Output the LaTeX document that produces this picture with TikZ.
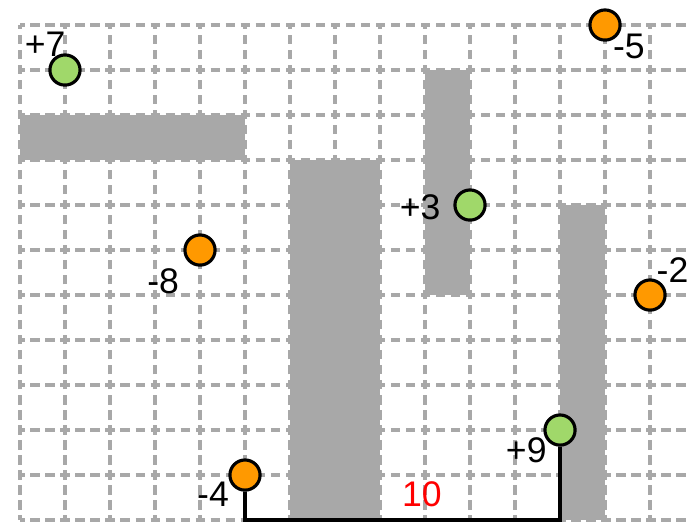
\documentclass[tikz,border=0pt]{standalone}
\usepackage{fontspec}
\setmainfont{Liberation Sans}
\definecolor{gridgray}{RGB}{168,168,168}
\definecolor{goodgreen}{RGB}{160,216,106}
\definecolor{badorange}{RGB}{255,153,0}
\begin{document}
\begin{tikzpicture}[
    gridline/.style={draw=gridgray, line width=2.2pt, dash pattern=on 5.9pt off 3.6pt, dash phase=2.95pt},
    wall/.style={fill=gridgray},
    reward/.style={circle, draw=black, line width=2pt, minimum size=0.67cm, inner sep=0pt},
    plus/.style={reward, fill=goodgreen},
    minus/.style={reward, fill=badorange},
    value/.style={font=\fontsize{22.5}{26}\selectfont, inner sep=0pt},
    route/.style={draw=black, line width=2.7pt}]

    % Frame of the picture
    \useasboundingbox (-0.444,-0.022) rectangle (14.844,11.556);

    % Dashed grid
    \foreach \x in {0,...,14}
        \draw[gridline] (\x,0) -- (\x,11);
    \foreach \y in {0,...,11}
        \draw[gridline] (0,\y) -- (14.844,\y);

    % Walls
    \fill[wall] (0,8) rectangle (5,9);
    \fill[wall] (6,0) rectangle (8,8);
    \fill[wall] (9,5) rectangle (10,10);
    \fill[wall] (12,0) rectangle (13,7);

    % Rewards
    \node[plus]  (p7) at (1,10) {};
    \node[minus] (m5) at (13,11) {};
    \node[plus]  (p3) at (10,7) {};
    \node[minus] (m8) at (4,6) {};
    \node[minus] (m2) at (14,5) {};
    \node[minus] (m4) at (5,1) {};
    \node[plus]  (p9) at (12,2) {};

    % Reward values
    \node[value] (lp7) at (0.56,10.58) {+7};
    \node[value] (lm5) at (13.53,10.53) {-5};
    \node[value] (lp3) at (8.89,6.96) {+3};
    \node[value] (lm8) at (3.18,5.31) {-8};
    \node[value] (lm2) at (14.5,5.56) {-2};
    \node[value] (lm4) at (4.29,0.58) {-4};
    \node[value] (lp9) at (11.25,1.56) {+9};

    % Shortest way from -4 to +9
    \coordinate (floorA) at (5,0);
    \coordinate (floorB) at (12,0);
    \draw[route] (m4) -- (floorA) -- (floorB) -- (p9);
    \node[value, text=red] (dist) at (8.93,0.58) {10};
\end{tikzpicture}
\end{document}
